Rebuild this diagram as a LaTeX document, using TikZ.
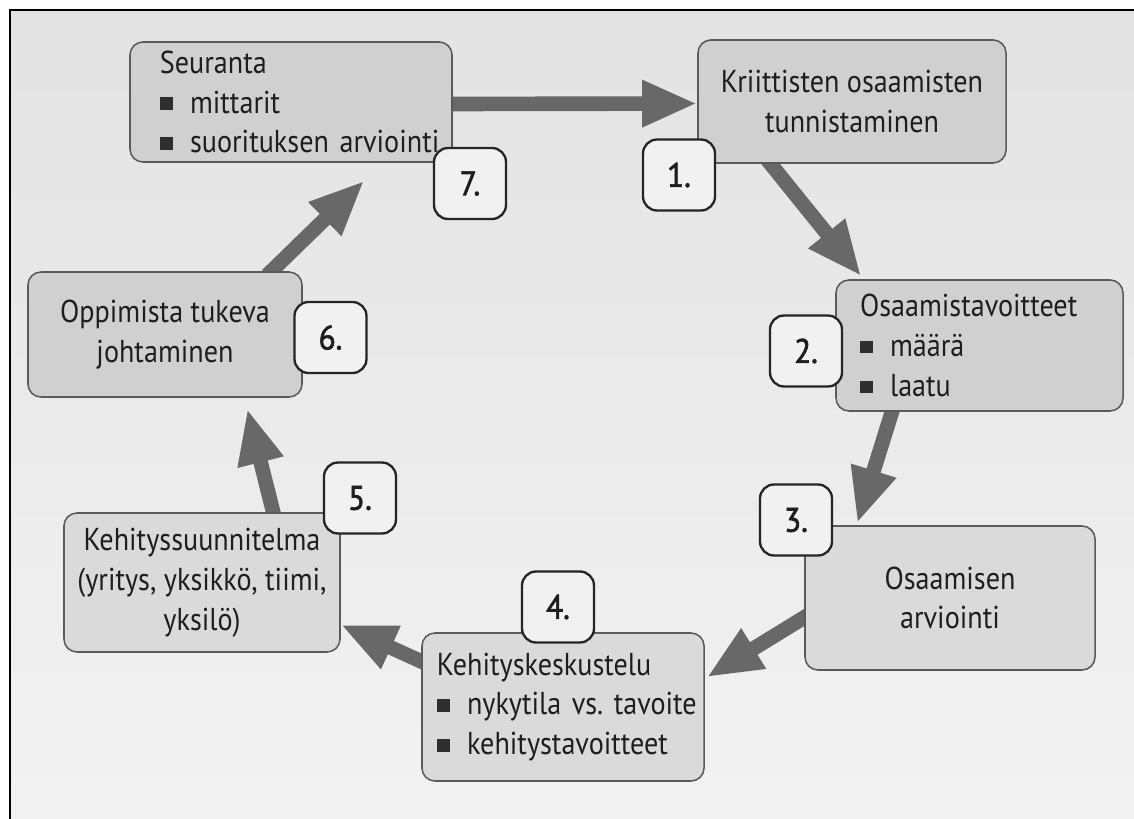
\documentclass[tikz,border=0pt]{standalone}
\usepackage{fontspec}
\setmainfont{PT Sans}[FakeStretch=0.89]
\newfontfamily\badgefam{PT Sans}[FakeStretch=0.92,FakeBold=2]
\usetikzlibrary{arrows.meta,calc}
\definecolor{txt}{HTML}{1E1E1E}
\definecolor{boxline}{HTML}{5A5A5A}
\definecolor{boxfill}{HTML}{D0D0D0}
\definecolor{boxfillb}{HTML}{DADADA}
\definecolor{badgeline}{HTML}{252525}
\definecolor{badgefill}{HTML}{F1F1F1}
\definecolor{arrc}{HTML}{686868}
\definecolor{bulc}{HTML}{2E2E2E}
\newcommand\bul{{\color{bulc}\rule[0.1em]{0.4em}{0.4em}}\hspace{0.55em}}
\newcommand\ind[1]{\hspace*{#1}}
\newcommand\boxfont{\fontsize{27}{34}\selectfont\frenchspacing}
\newcommand\badgefont{\badgefam\fontsize{29}{30}\selectfont}
\pgfdeclarelayer{back}
\pgfdeclarelayer{arr}
\pgfsetlayers{back,arr,main}
\begin{document}
\begin{tikzpicture}[x=0.03cm,y=-0.03cm,
  box/.style={draw=boxline,line width=1.3pt,fill=boxfill,rounded corners=11pt,inner ysep=0pt,font=\boxfont,text=txt},
  lbox/.style={box,inner xsep=0.1cm,align=left},
  badge/.style={draw=badgeline,line width=2pt,fill=badgefill,rounded corners=12pt,minimum width=2.16cm,minimum height=2.13cm,inner sep=0pt,font=\badgefont,text=txt},
  flow/.style={draw=arrc,line width=12.5pt,-{Triangle[width=37pt,length=47pt]}}]
\useasboundingbox (0,0) rectangle (1134,819);
\begin{pgfonlayer}{back}
  \fill[white] (0,0) rectangle (1134,819);
  \shade[top color=black!11,bottom color=black!5] (10,10) rectangle (1134,819);
  \draw[line width=1.6pt,black] (10,819) -- (10,10) -- (1134,10);
\end{pgfonlayer}

% boxes
\node[lbox,minimum width=9.66cm,minimum height=3.6cm,text width=9.46cm] (b7) at (291,102)
  {\ind{0.8cm}Seuranta\\\ind{0.8cm}\bul mittarit\\\ind{0.8cm}\bul suorituksen arviointi};
\node[box,minimum width=9.24cm,minimum height=3.69cm,align=center] (b1) at (852,101.5)
  {Kriittisten osaamisten\\tunnistaminen};
\node[lbox,minimum width=8.61cm,minimum height=3.93cm,text width=8.41cm] (b2) at (979.5,345.5)
  {\ind{0.62cm}Osaamistavoitteet\\\ind{0.62cm}\bul määrä\\\ind{0.62cm}\bul laatu};
\node[box,fill=boxfillb,minimum width=8.7cm,minimum height=4.32cm,align=center] (b3) at (950,598)
  {Osaamisen\\arviointi};
\node[lbox,fill=boxfillb,minimum width=8.46cm,minimum height=4.44cm,text width=8.26cm] (b4) at (563,707)
  {\ind{0.35cm}Kehityskeskustelu\\\ind{0.35cm}\bul nykytila vs. tavoite\\\ind{0.35cm}\bul kehitystavoitteet};
\node[box,fill=boxfillb,minimum width=8.28cm,minimum height=4.17cm,align=center] (b5) at (202,582.5)
  {Kehityssuunnitelma\\(yritys, yksikkö, tiimi,\\yksilö)};
\node[box,minimum width=8.22cm,minimum height=3.75cm,align=center] (b6) at (165,334.5)
  {Oppimista tukeva\\johtaminen};

% badges
\node[badge] (n1) at (679,175) {1.};
\node[badge] (n2) at (806,351) {2.};
\node[badge] (n3) at (796,520) {3.};
\node[badge] (n4) at (558,607) {4.};
\node[badge] (n5) at (360,498) {5.};
\node[badge] (n6) at (330.5,337.5) {6.};
\node[badge] (n7) at (470,183.5) {7.};

% arrows
\begin{pgfonlayer}{arr}
  \draw[flow] ($(b7.east)+(-4,2)$) -- ($(b1.west)+(0,2)$);
  \draw[flow] ($(b1.south west)+(70,-4)$) -- ($(b2.north west)+(26,-3)$);
  \draw[flow] ($(b2.south west)+(58,-4)$) -- ($(b3.north west)+(53,-2)$);
  \draw[flow] ($(b3.west)+(4,17)$) -- ($(b4.north east)+(2,45)$);
  \draw[flow] ($(b4.north west)+(4,31)$) -- ($(b5.south east)+(0,-28)$);
  \draw[flow] ($(b5.north west)+(211,4)$) -- ($(b6.south west)+(220,11)$);
  \draw[flow] ($(b6.north west)+(240,4)$) -- ($(b7.south west)+(235,18)$);
\end{pgfonlayer}
\end{tikzpicture}
\end{document}
